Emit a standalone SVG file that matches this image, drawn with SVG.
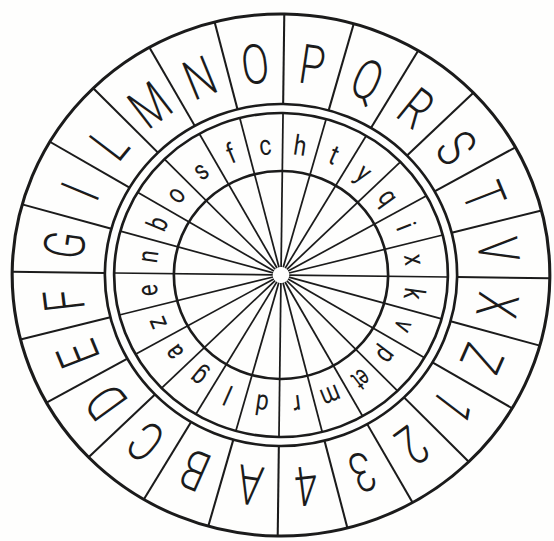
<svg xmlns="http://www.w3.org/2000/svg" xmlns:xlink="http://www.w3.org/1999/xlink" width="554" height="541" viewBox="0 0 554 541">
<style>
.ring{fill:none;stroke:#1b1b1b;stroke-width:2.6}
.div{stroke:#1b1b1b;stroke-width:2}
.ray{stroke:#1b1b1b;stroke-width:1.7}
.cap{font-family:Roboto,Inter,"Liberation Sans",sans-serif;font-weight:300;font-size:55px;fill:#1b1b1b;text-anchor:middle}
.low{font-family:Roboto,Inter,"Liberation Sans",sans-serif;font-weight:400;font-size:28px;fill:#1b1b1b;text-anchor:middle}
</style>
<defs>
<line id="d" class="div" x1="0" y1="-171" x2="0" y2="-261"/>
<line id="r" class="ray" x1="0" y1="-8" x2="0" y2="-162"/>
</defs>
<rect width="554" height="541" fill="#fefefd"/>
<g id="disk" transform="translate(281,275) scale(1.03,1) rotate(0.7)">
<g id="rings">
<circle class="ring" r="261" style="stroke-width:3"/>
<circle class="ring" r="171"/>
<circle class="ring" r="162"/>
<circle class="ring" r="104"/>
</g>
<g id="connectors">
<use xlink:href="#d"/><use xlink:href="#d" transform="rotate(15)"/><use xlink:href="#d" transform="rotate(30)"/><use xlink:href="#d" transform="rotate(45)"/><use xlink:href="#d" transform="rotate(60)"/><use xlink:href="#d" transform="rotate(75)"/><use xlink:href="#d" transform="rotate(90)"/><use xlink:href="#d" transform="rotate(105)"/><use xlink:href="#d" transform="rotate(120)"/><use xlink:href="#d" transform="rotate(135)"/><use xlink:href="#d" transform="rotate(150)"/><use xlink:href="#d" transform="rotate(165)"/><use xlink:href="#d" transform="rotate(180)"/><use xlink:href="#d" transform="rotate(195)"/><use xlink:href="#d" transform="rotate(210)"/><use xlink:href="#d" transform="rotate(225)"/><use xlink:href="#d" transform="rotate(240)"/><use xlink:href="#d" transform="rotate(255)"/><use xlink:href="#d" transform="rotate(270)"/><use xlink:href="#d" transform="rotate(285)"/><use xlink:href="#d" transform="rotate(300)"/><use xlink:href="#d" transform="rotate(315)"/><use xlink:href="#d" transform="rotate(330)"/><use xlink:href="#d" transform="rotate(345)"/>
<use xlink:href="#r"/><use xlink:href="#r" transform="rotate(15)"/><use xlink:href="#r" transform="rotate(30)"/><use xlink:href="#r" transform="rotate(45)"/><use xlink:href="#r" transform="rotate(60)"/><use xlink:href="#r" transform="rotate(75)"/><use xlink:href="#r" transform="rotate(90)"/><use xlink:href="#r" transform="rotate(105)"/><use xlink:href="#r" transform="rotate(120)"/><use xlink:href="#r" transform="rotate(135)"/><use xlink:href="#r" transform="rotate(150)"/><use xlink:href="#r" transform="rotate(165)"/><use xlink:href="#r" transform="rotate(180)"/><use xlink:href="#r" transform="rotate(195)"/><use xlink:href="#r" transform="rotate(210)"/><use xlink:href="#r" transform="rotate(225)"/><use xlink:href="#r" transform="rotate(240)"/><use xlink:href="#r" transform="rotate(255)"/><use xlink:href="#r" transform="rotate(270)"/><use xlink:href="#r" transform="rotate(285)"/><use xlink:href="#r" transform="rotate(300)"/><use xlink:href="#r" transform="rotate(315)"/><use xlink:href="#r" transform="rotate(330)"/><use xlink:href="#r" transform="rotate(345)"/>
</g>
<g id="outer-letters">
<text class="cap" transform="rotate(7.5) translate(0,-193) scale(0.72,1)">P</text>
<text class="cap" transform="rotate(22.5) translate(0,-193) scale(0.72,1)">Q</text>
<text class="cap" transform="rotate(37.5) translate(0,-193) scale(0.72,1)">R</text>
<text class="cap" transform="rotate(52.5) translate(0,-193) scale(0.72,1)">S</text>
<text class="cap" transform="rotate(67.5) translate(0,-193) scale(0.72,1)">T</text>
<text class="cap" transform="rotate(82.5) translate(0,-193) scale(0.72,1)">V</text>
<text class="cap" transform="rotate(97.5) translate(0,-193) scale(0.72,1)">X</text>
<text class="cap" transform="rotate(112.5) translate(0,-193) scale(0.72,1)">Z</text>
<text class="cap" transform="rotate(127.5) translate(0,-193) scale(0.72,1)">1</text>
<text class="cap" transform="rotate(142.5) translate(0,-193) scale(0.72,1)">2</text>
<text class="cap" transform="rotate(157.5) translate(0,-193) scale(0.72,1)">3</text>
<text class="cap" transform="rotate(172.5) translate(0,-193) scale(0.72,1)">4</text>
<text class="cap" transform="rotate(187.5) translate(0,-193) scale(0.72,1)">A</text>
<text class="cap" transform="rotate(202.5) translate(0,-193) scale(0.72,1)">B</text>
<text class="cap" transform="rotate(217.5) translate(0,-193) scale(0.72,1)">C</text>
<text class="cap" transform="rotate(232.5) translate(0,-193) scale(0.72,1)">D</text>
<text class="cap" transform="rotate(247.5) translate(0,-193) scale(0.72,1)">E</text>
<text class="cap" transform="rotate(262.5) translate(0,-193) scale(0.72,1)">F</text>
<text class="cap" transform="rotate(277.5) translate(0,-193) scale(0.72,1)">G</text>
<text class="cap" transform="rotate(292.5) translate(0,-193) scale(0.72,1)">I</text>
<text class="cap" transform="rotate(307.5) translate(0,-193) scale(0.72,1)">L</text>
<text class="cap" transform="rotate(322.5) translate(0,-193) scale(0.72,1)">M</text>
<text class="cap" transform="rotate(337.5) translate(0,-193) scale(0.72,1)">N</text>
<text class="cap" transform="rotate(352.5) translate(0,-193) scale(0.72,1)">O</text>
</g>
<g id="inner-letters">
<text class="low" transform="rotate(7.5) translate(0,-121) scale(0.8,1)">h</text>
<text class="low" transform="rotate(22.5) translate(0,-121) scale(0.8,1)">t</text>
<text class="low" transform="rotate(37.5) translate(0,-121) scale(0.8,1)">y</text>
<text class="low" transform="rotate(52.5) translate(0,-121) scale(0.8,1)">q</text>
<text class="low" transform="rotate(67.5) translate(0,-121) scale(0.8,1)">i</text>
<text class="low" transform="rotate(82.5) translate(0,-121) scale(0.8,1)">x</text>
<text class="low" transform="rotate(97.5) translate(0,-121) scale(0.8,1)">k</text>
<text class="low" transform="rotate(112.5) translate(0,-121) scale(0.8,1)">v</text>
<text class="low" transform="rotate(127.5) translate(0,-121) scale(0.8,1)">p</text>
<text class="low" transform="rotate(142.5) translate(0,-121) scale(0.62,1)">et</text>
<text class="low" transform="rotate(157.5) translate(0,-121) scale(0.75,1)">m</text>
<text class="low" transform="rotate(172.5) translate(0,-121) scale(0.8,1)">r</text>
<text class="low" transform="rotate(187.5) translate(0,-121) scale(0.8,1)">d</text>
<text class="low" transform="rotate(202.5) translate(0,-121) scale(0.8,1)">l</text>
<text class="low" transform="rotate(217.5) translate(0,-121) scale(0.8,1)">g</text>
<text class="low" transform="rotate(232.5) translate(0,-121) scale(0.8,1)">a</text>
<text class="low" transform="rotate(247.5) translate(0,-121) scale(0.8,1)">z</text>
<text class="low" transform="rotate(262.5) translate(0,-121) scale(0.8,1)">e</text>
<text class="low" transform="rotate(277.5) translate(0,-121) scale(0.8,1)">n</text>
<text class="low" transform="rotate(292.5) translate(0,-121) scale(0.8,1)">b</text>
<text class="low" transform="rotate(307.5) translate(0,-121) scale(0.8,1)">o</text>
<text class="low" transform="rotate(322.5) translate(0,-121) scale(0.8,1)">s</text>
<text class="low" transform="rotate(337.5) translate(0,-121) scale(0.8,1)">f</text>
<text class="low" transform="rotate(352.5) translate(0,-121) scale(0.8,1)">c</text>
</g>
</g>
</svg>
